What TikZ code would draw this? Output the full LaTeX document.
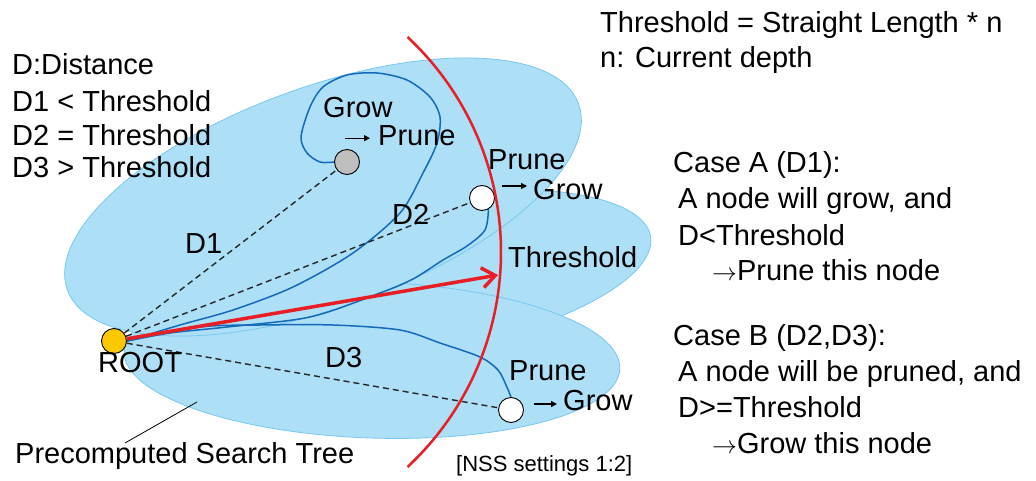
\documentclass[tikz,border=0pt]{standalone}
\usepackage{fontspec}
\setmainfont{Liberation Sans}
\usetikzlibrary{arrows.meta}
\definecolor{treeblue}{RGB}{173,223,247}
\definecolor{treeedge}{RGB}{120,200,238}
\definecolor{walkblue}{RGB}{20,105,185}
\definecolor{cutred}{RGB}{232,30,37}
\definecolor{rootgold}{RGB}{252,200,0}
\definecolor{seengray}{RGB}{190,190,190}

\begin{document}
\begin{tikzpicture}[x=1pt,y=-1pt,
    tree/.style={fill=treeblue, draw=treeedge, line width=0.8pt},
    knot/.style={circle, draw, line width=0.9pt, minimum size=25pt, inner sep=0pt},
    lbl/.style={anchor=base west, inner sep=0pt, font=\fontsize{29}{35}\selectfont},
    walk/.style={draw=walkblue, line width=1.5pt},
    dist/.style={draw=black!85, line width=1.4pt, dash pattern=on 6pt off 4pt},
    turn/.style={line width=1.3pt, -{Triangle[length=6pt,width=6pt]}}]
    \useasboundingbox (0,0) rectangle (1036,481);
    % search trees (drawn back to front)
    \draw[tree, rotate around={9.4:(400,278)}] (400,278) ellipse [x radius=254, y radius=80];
    \draw[tree, rotate around={-2:(372,360)}] (372,360) ellipse [x radius=248, y radius=78];
    \draw[tree, rotate around={20:(323,197)}] (323,197) ellipse [x radius=272, y radius=110];
    % tree nodes
    \node[knot, fill=rootgold] (root) at (114,341) {};
    \node[knot, fill=seengray] (near) at (347,162) {};
    \node[knot, fill=white] (edge) at (482,198) {};
    \node[knot, fill=white] (far) at (511,410) {};
    \coordinate (thr) at (498,275);
    % grown paths
    \draw[walk] plot[smooth] coordinates {(root.east) (180,325) (233,310) (293,287) (353,253)
        (400,213) (423,173) (437,143) (440,117) (430,97) (407,80) (377,73) (347,75)
        (323,87) (310,107) (301,137) (307,153) (320,162) (near.west)};
    \draw[walk] plot[smooth] coordinates {(root.east) (170,333) (227,327) (310,317) (380,293)
        (413,279) (443,260) (467,246) (485,230) (edge.-60)};
    \draw[walk] plot[smooth] coordinates {(root.east) (200,327) (260,325) (333,325) (400,330)
        (440,343) (480,357) (498,370) (506,385) (far.north)};
    % distances
    \draw[dist] (root) -- (near);
    \draw[dist] (root) -- (edge);
    \draw[dist] (root) -- (far);
    \draw[cutred, line width=3.5pt, -{Straight Barb[length=13pt,width=20pt]}] (root) -- (thr);
    \draw[cutred, line width=2.5pt, domain=-47:47, samples=80]
        plot({207+294*cos(\x)}, {252+294*sin(\x)});
    % labels in the tree
    \node[lbl] (rootlbl) at (98,372) {ROOT};
    \node[lbl] (d1) at (185,253) {D1};
    \node[lbl] (d2) at (392,225) {D2};
    \node[lbl] (d3) at (325,367) {D3};
    \node[lbl] (growA) at (323,118) {Grow};
    \node[lbl] (pruneA) at (378,146) {Prune};
    \draw[turn] ([xshift=-33pt,yshift=-2pt]pruneA.west) -- ([xshift=-8pt,yshift=-2pt]pruneA.west);
    \node[lbl] (pruneB) at (488,170) {Prune};
    \node[lbl] (growB) at (533,200) {Grow};
    \draw[turn] ([xshift=-31pt,yshift=4pt]growB.west) -- ([xshift=-6pt,yshift=4pt]growB.west);
    \node[lbl] (thrlbl) at (508,267) {Threshold};
    \node[lbl] (pruneC) at (509,380) {Prune};
    \node[lbl] (growC) at (563,410) {Grow};
    \draw[turn] ([xshift=-29pt,yshift=-4pt]growC.west) -- ([xshift=-6pt,yshift=-4pt]growC.west);
    % legend
    \node[lbl] (key0) at (12,75) {D:Distance};
    \node[lbl] (key1) at (12,112) {D1 < Threshold};
    \node[lbl] (key2) at (12,146) {D2 = Threshold};
    \node[lbl] (key3) at (12,178) {D3 > Threshold};
    \node[lbl] (rule) at (600,33) {Threshold = Straight Length * n};
    \node[lbl] (depth) at (600,68) {n: Current depth};
    % cases
    \node[lbl] (caseA) at (673,173) {Case A (D1):};
    \node[lbl] (caseA1) at (678,209) {A node will grow, and};
    \node[lbl] (caseA2) at (678,245) {D<Threshold};
    \node[lbl] (caseA3) at (712,280) {$\rightarrow$Prune this node};
    \node[lbl] (caseB) at (673,345) {Case B (D2,D3):};
    \node[lbl] (caseB1) at (678,381) {A node will be pruned, and};
    \node[lbl] (caseB2) at (678,417) {D>=Threshold};
    \node[lbl] (caseB3) at (712,453) {$\rightarrow$Grow this node};
    % caption and leader
    \node[lbl] (treelbl) at (15,463) {Precomputed Search Tree};
    \coordinate (leadA) at (197,402);
    \coordinate (leadB) at (125,443);
    \draw[line width=0.8pt] (leadA) -- (leadB);
    \node[lbl, font=\fontsize{22}{26}\selectfont] (nss) at (456,471) {[NSS settings 1:2]};
\end{tikzpicture}
\end{document}
